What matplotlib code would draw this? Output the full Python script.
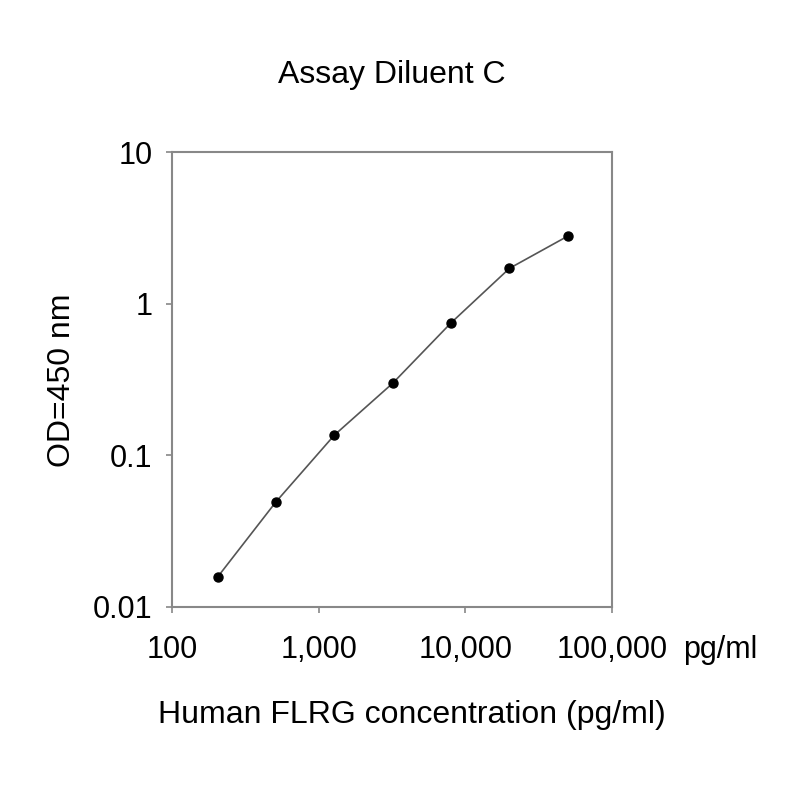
import matplotlib
matplotlib.use('agg')
import matplotlib.pyplot as plt
from matplotlib.ticker import FixedLocator, FixedFormatter, NullLocator

plt.rcParams['font.family'] = ['Liberation Sans', 'DejaVu Sans']

# standard curve, 2.5-fold dilutions
conc = [205, 512, 1280, 3200, 8000, 20000, 50000]
od = [0.0158, 0.0494, 0.136, 0.299, 0.748, 1.71, 2.79]

x_ticks = [100, 1000, 10000, 100000]
x_labels = ['100', '1,000', '10,000', '100,000']
y_ticks = [0.01, 0.1, 1, 10]
y_labels = ['0.01', '0.1', '1', '10']

fig = plt.figure(figsize=(8, 8), dpi=100)
ax = fig.add_axes([0.215, 0.24125, 0.55, 0.56875])

ax.plot(conc, od, '-', color='#555555', lw=1.2)
ax.plot(conc, od, 'o', color='black', ms=6.5)

ax.set_xscale('log')
ax.set_yscale('log')
ax.set_xlim(100, 100000)
ax.set_ylim(0.01, 10)

ax.xaxis.set_major_locator(FixedLocator(x_ticks))
ax.xaxis.set_major_formatter(FixedFormatter(x_labels))
ax.xaxis.set_minor_locator(NullLocator())
ax.yaxis.set_major_locator(FixedLocator(y_ticks))
ax.yaxis.set_major_formatter(FixedFormatter(y_labels))
ax.yaxis.set_minor_locator(NullLocator())

for s in ax.spines.values():
    s.set_color('#888888')
    s.set_linewidth(1.5)
ax.tick_params(direction='out', length=4, width=1.2, color='#888888',
               labelsize=22)
ax.tick_params(axis='x', pad=16)
ax.tick_params(axis='y', pad=10)

# titles placed in figure coords
fig.text(0.49, 1 - 75 / 800, 'Assay Diluent C', fontsize=23, ha='center', va='center')
fig.text(62 / 800, 1 - 380 / 800, 'OD=450 nm', fontsize=23, rotation=90,
         ha='center', va='center')
fig.text(412 / 800, 1 - 715 / 800, 'Human FLRG concentration (pg/ml)',
         fontsize=23, ha='center', va='center')
fig.text(683 / 800, 1 - 650 / 800, 'pg/ml', fontsize=22, ha='left', va='center')

fig.savefig('out.png', dpi=100, facecolor='white')
